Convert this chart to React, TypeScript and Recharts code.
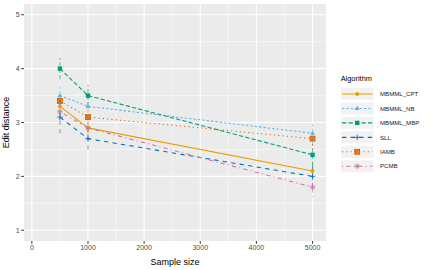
import React from "react";
import { LineChart, Line, XAxis, YAxis, ErrorBar, ReferenceLine, ReferenceArea, Label } from "recharts";

const sampleSizes = [500, 1000, 5000];
const algorithms = ["MBMML_CPT", "MBMML_NB", "MBMML_MBP", "SLL", "IAMB", "PCMB"];
const cptValues = [3.3, 2.9, 2.1];
const nbValues = [3.5, 3.3, 2.8];
const mbpValues = [4.0, 3.5, 2.4];
const sllValues = [3.1, 2.7, 2.0];
const iambValues = [3.4, 3.1, 2.7];
const pcmbValues = [3.2, 2.9, 1.8];
const cptErr = [0.15, 0.15, 0.15];
const nbErr = [0.2, 0.2, 0.2];
const mbpErr = [0.2, 0.2, 0.2];
const sllErr = [0.3, 0.2, 0.2];
const iambErr = [0.2, 0.2, 0.2];
const pcmbErr = [0.15, 0.15, 0.18];

const xTicks = [0, 1000, 2000, 3000, 4000, 5000];
const xMinor = [500, 1500, 2500, 3500, 4500];
const yTicks = [1, 2, 3, 4, 5];
const yMinor = [1.5, 2.5, 3.5, 4.5];

const values = [cptValues, nbValues, mbpValues, sllValues, iambValues, pcmbValues];
const errs = [cptErr, nbErr, mbpErr, sllErr, iambErr, pcmbErr];
const colors = ["#E69F00", "#56B4E9", "#009E73", "#0072B2", "#D55E00", "#CC79A7"];
const dashes = ["", "2.2 2.2", "4.3 2.2", "4.3 4.3", "1.1 3.2", "1.1 3.2 4.3 3.2"];
const shapes = ["circle", "triangle", "square", "plus", "boxx", "asterisk"];

const data = sampleSizes.map((s, i) => {
  const row: any = { size: s };
  algorithms.forEach((a, k) => {
    row[a] = values[k][i];
    row[a + "_e"] = errs[k][i];
  });
  return row;
});

const FONT = "'Liberation Sans', Arial, sans-serif";

function Marker({ shape, cx, cy, color }: any) {
  if (cx == null || cy == null) return null;
  const r = 2.2;
  switch (shape) {
    case "circle":
      return <circle cx={cx} cy={cy} r={1.9} fill={color} />;
    case "triangle":
      return <polygon points={`${cx},${cy - 2.6} ${cx - 2.4},${cy + 1.6} ${cx + 2.4},${cy + 1.6}`} fill={color} />;
    case "square":
      return <rect x={cx - r} y={cy - r} width={2 * r} height={2 * r} fill={color} />;
    case "plus":
      return (
        <g stroke={color} strokeWidth={0.9}>
          <line x1={cx - 2.8} y1={cy} x2={cx + 2.8} y2={cy} />
          <line x1={cx} y1={cy - 2.8} x2={cx} y2={cy + 2.8} />
        </g>
      );
    case "boxx":
      return (
        <g stroke={color} strokeWidth={0.9} fill={color} fillOpacity={0.6}>
          <rect x={cx - 2.4} y={cy - 2.4} width={4.8} height={4.8} />
          <line x1={cx - 2.4} y1={cy - 2.4} x2={cx + 2.4} y2={cy + 2.4} />
          <line x1={cx - 2.4} y1={cy + 2.4} x2={cx + 2.4} y2={cy - 2.4} />
        </g>
      );
    case "asterisk":
      return (
        <g stroke={color} strokeWidth={0.9}>
          <line x1={cx - 2.8} y1={cy} x2={cx + 2.8} y2={cy} />
          <line x1={cx} y1={cy - 2.8} x2={cx} y2={cy + 2.8} />
          <line x1={cx - 2} y1={cy - 2} x2={cx + 2} y2={cy + 2} />
          <line x1={cx - 2} y1={cy + 2} x2={cx + 2} y2={cy - 2} />
        </g>
      );
  }
  return null;
}

function LegendBox() {
  return (
    <svg width={100} height={110} style={{ position: "absolute", left: 335, top: 68, overflow: "visible" }}>
      <text x={5.7} y={12.5} fontFamily={FONT} fontSize={7.4} fill="#000">Algorithm</text>
      {algorithms.map((a, k) => {
        const cy = 26 + k * 14.45;
        return (
          <g key={a}>
            <rect x={6} y={cy - 6} width={32.5} height={12} fill="#F2F2F2" />
            <line x1={7} y1={cy} x2={37.5} y2={cy} stroke={colors[k]} strokeWidth={1.07} strokeDasharray={dashes[k] || undefined} />
            <Marker shape={shapes[k]} cx={22.2} cy={cy} color={colors[k]} />
            <text x={45} y={cy + 2.2} fontFamily={FONT} fontSize={6.1} fill="#1A1A1A">{a}</text>
          </g>
        );
      })}
    </svg>
  );
}

export default function App() {
  return (
    <div style={{ position: "absolute", left: 0, top: 0, width: 437, height: 270, background: "#fff" }}>
      <LineChart width={437} height={270} data={data} margin={{ top: 4, right: 111, bottom: 0, left: 0 }}>
        <ReferenceArea x1={-140} x2={5240} y1={0.8} y2={5.2} fill="#EBEBEB" fillOpacity={1} stroke="none" ifOverflow="hidden" />
        {xMinor.map((v) => (
          <ReferenceLine key={"xm" + v} x={v} stroke="#fff" strokeWidth={0.55} />
        ))}
        {yMinor.map((v) => (
          <ReferenceLine key={"ym" + v} y={v} stroke="#fff" strokeWidth={0.55} />
        ))}
        {xTicks.map((v) => (
          <ReferenceLine key={"x" + v} x={v} stroke="#fff" strokeWidth={1.07} />
        ))}
        {yTicks.map((v) => (
          <ReferenceLine key={"y" + v} y={v} stroke="#fff" strokeWidth={1.07} />
        ))}
        <XAxis
          dataKey="size"
          type="number"
          domain={[-140, 5240]}
          ticks={xTicks}
          allowDataOverflow
          height={29}
          axisLine={false}
          tickLine={{ stroke: "#333333", strokeWidth: 1 }}
          tickSize={2.75}
          tickMargin={1.5}
          tick={{ fontSize: 7, fill: "#4D4D4D", fontFamily: FONT }}
        >
          <Label value="Sample size" position="insideBottom" offset={5} style={{ fontSize: 9, fill: "#000", fontFamily: FONT }} />
        </XAxis>
        <YAxis
          type="number"
          domain={[0.8, 5.2]}
          ticks={yTicks}
          allowDataOverflow
          width={24}
          axisLine={false}
          tickLine={{ stroke: "#333333", strokeWidth: 1 }}
          tickSize={2.75}
          tickMargin={1.5}
          tick={{ fontSize: 7, fill: "#4D4D4D", fontFamily: FONT }}
        >
          <Label value="Edit distance" angle={-90} position="insideLeft" offset={6} style={{ fontSize: 9, fill: "#000", fontFamily: FONT, textAnchor: "middle" }} />
        </YAxis>
        {algorithms.map((a, k) => (
          <Line
            key={a}
            dataKey={a}
            type="linear"
            stroke={colors[k]}
            strokeWidth={1.07}
            strokeDasharray={dashes[k] || undefined}
            isAnimationActive={false}
            dot={(p: any) => <Marker key={a + p.index} shape={shapes[k]} cx={p.cx} cy={p.cy} color={colors[k]} />}
            activeDot={false}
          >
            <ErrorBar dataKey={a + "_e"} direction="y" width={0} stroke={colors[k]} strokeWidth={1.07} strokeDasharray={dashes[k] || undefined} strokeOpacity={0.6} isAnimationActive={false} />
          </Line>
        ))}
      </LineChart>
      <LegendBox />
    </div>
  );
}
